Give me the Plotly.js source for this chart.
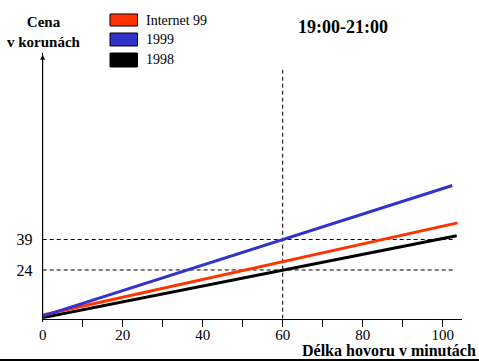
<!DOCTYPE html>
<html><head><meta charset="utf-8">
<script src="https://cdn.plot.ly/plotly-3.0.1.min.js"></script>
<style>html,body{margin:0;padding:0;background:#fff}#chart{width:479px;height:361px}</style>
</head><body><div id="chart"></div>
<script>
// Data
const seriesNames = ["Internet 99", "1999", "1998"];
const seriesColors = ["#FF3300", "#3333CC", "#000000"];
const xInternet99 = [0, 60, 103.7];
const yInternet99 = [1.8, 28.1, 47.2];
const x1999 = [0, 60, 102.4];
const y1999 = [1.3, 39, 65.6];
const x1998 = [0, 60, 103.5];
const y1998 = [0.5, 24, 40.9];
const refY = [24, 39];        // dashed horizontal reference values
const refX = [60];            // dashed vertical reference value
const xTickVals = [0, 20, 40, 60, 80, 100];
const xTickText = ["0", "20", "40", "60", "80", "100"];
const xTickMarks = [10, 20, 30, 40, 50, 60, 70, 80, 90, 100];
const titleText = "19:00-21:00";
const yTitleLines = ["Cena", "v korunách"];
const xTitleText = "Délka hovoru v minutách";

const W = 479, H = 361;
const px = v => v / W;
const py = v => 1 - v / H;
const serif = '"Liberation Serif", "Times New Roman", Times, serif';

const xs = [xInternet99, x1999, x1998];
const ys = [yInternet99, y1999, y1998];
const order = [2, 0, 1];
const traces = order.map(i => ({
  type: "scatter", mode: "lines", x: xs[i], y: ys[i], name: seriesNames[i],
  line: {color: seriesColors[i], width: 3}, hoverinfo: "skip", showlegend: false
}));

const shapes = [];
refY.forEach(v => shapes.push({type: "line", xref: "x", yref: "y", x0: 0, x1: 102.6, y0: v, y1: v,
  line: {color: "#000", width: 1, dash: "4px,3px"}, layer: "below"}));
refX.forEach(v => shapes.push({type: "line", xref: "x", yref: "y", x0: v, x1: v, y0: 0, y1: 123.5,
  line: {color: "#000", width: 1, dash: "4px,3px"}, layer: "below"}));
// legend boxes
const boxY = [[14, 26], [33, 46], [53, 67]];
seriesNames.forEach((n, i) => {
  shapes.push({type: "rect", xref: "paper", yref: "paper", x0: px(110), x1: px(137.5),
    y0: py(boxY[i][1]), y1: py(boxY[i][0]), fillcolor: seriesColors[i],
    line: {color: "#000", width: 1}});
});
// bottom thick rule
shapes.push({type: "line", xref: "paper", yref: "paper", x0: 0, x1: 1, y0: py(360), y1: py(360),
  line: {color: "#000", width: 2}});

const annotations = [];
seriesNames.forEach((n, i) => {
  annotations.push({xref: "paper", yref: "paper", x: px(144), y: py((boxY[i][0] + boxY[i][1]) / 2),
    xanchor: "left", yanchor: "middle", text: n, showarrow: false,
    font: {family: serif, size: 14, color: "#000"}});
});
annotations.push({xref: "paper", yref: "paper", x: px(343), y: py(27), xanchor: "center", yanchor: "middle",
  text: "<b>" + titleText + "</b>", showarrow: false, font: {family: serif, size: 18, color: "#000"}});
annotations.push({xref: "paper", yref: "paper", x: px(44), y: py(32), xanchor: "center", yanchor: "middle",
  text: yTitleLines.map(s => "<b>" + s + "</b>").join("<br>"), showarrow: false,
  font: {family: serif, size: 15, color: "#000"}});
annotations.push({xref: "paper", yref: "paper", x: px(478), y: py(350), xanchor: "right", yanchor: "middle",
  text: "<b>" + xTitleText + "</b>", showarrow: false, font: {family: serif, size: 16, color: "#000"}});
// y axis arrow
annotations.push({xref: "x", yref: "y", axref: "x", ayref: "y", x: 0, y: 130, ax: 0, ay: 0,
  showarrow: true, arrowhead: 2, arrowsize: 1, arrowwidth: 1, arrowcolor: "#000", text: ""});

const x0px = 42.7, pxPerX = 4.0, xEndPx = 462;
const y0px = 318.7, pxPerY = 2.03;
const yMax = 131;
const layout = {
  width: W, height: H, margin: {l: 0, r: 0, t: 0, b: 0},
  paper_bgcolor: "#fff", plot_bgcolor: "#fff", showlegend: false,
  font: {family: serif, color: "#000"},
  xaxis: {domain: [px(x0px), px(xEndPx)], range: [0, (xEndPx - x0px) / pxPerX],
    tickvals: xTickVals, ticktext: xTickText, ticks: "outside", ticklen: 2, tickwidth: 1, tickcolor: "#000",
    minor: {tickvals: xTickMarks, ticks: "outside", ticklen: 7, tickwidth: 1, tickcolor: "#000"},
    showline: true, linecolor: "#000", linewidth: 1, showgrid: false, zeroline: false,
    tickfont: {family: serif, size: 15, color: "#000"}, fixedrange: true},
  yaxis: {domain: [(H - y0px) / H, (H - y0px + yMax * pxPerY) / H], range: [0, yMax],
    tickvals: refY, ticktext: refY.map(String), ticks: "", showline: true, linecolor: "#000", linewidth: 1,
    showgrid: false, zeroline: false, ticklabelstandoff: 6,
    tickfont: {family: serif, size: 16, color: "#000"}, fixedrange: true},
  shapes: shapes, annotations: annotations
};
Plotly.newPlot("chart", traces, layout, {staticPlot: true, displayModeBar: false});
</script></body></html>
